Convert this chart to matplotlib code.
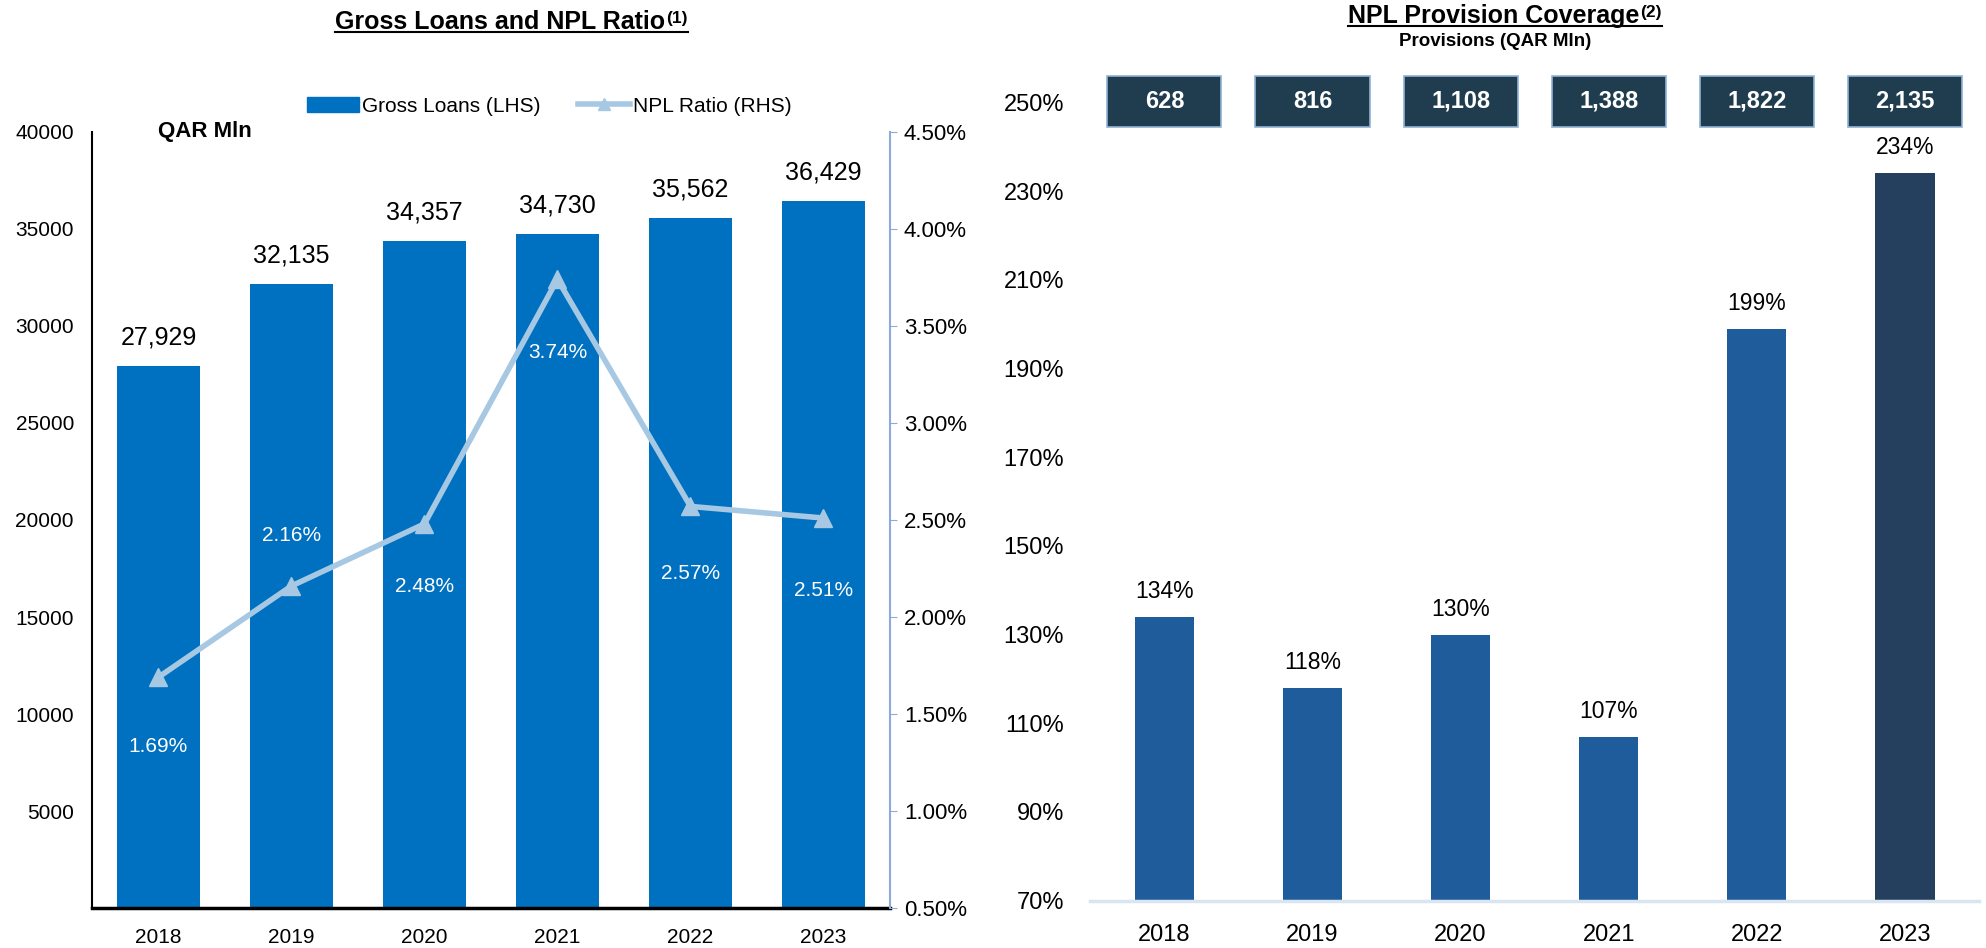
import matplotlib
matplotlib.use("Agg")
import matplotlib.pyplot as plt
from matplotlib.patches import Rectangle
from matplotlib.lines import Line2D

plt.rcParams['font.family'] = ['Liberation Sans', 'DejaVu Sans']

# data
years = ["2018", "2019", "2020", "2021", "2022", "2023"]
gross_loans = [27929, 32135, 34357, 34730, 35562, 36429]
npl_ratio = [1.69, 2.16, 2.48, 3.74, 2.57, 2.51]
coverage = [134, 118, 130, 107, 199, 234]
provisions = ["628", "816", "1,108", "1,388", "1,822", "2,135"]

fig = plt.figure(figsize=(19.86, 9.48), dpi=100)
x = list(range(len(years)))

# ---- left chart: gross loans + NPL ratio
ax1 = fig.add_axes([0.0463, 0.042, 0.4018, 0.819])
ax1.bar(x, gross_loans, width=0.62, color='#0070c0', zorder=2)
ax1.set_xlim(-0.5, 5.5)
ax1.set_ylim(0, 40000)
ax1.set_yticks(range(5000, 40001, 5000))
ax1.tick_params(axis='y', length=0, labelsize=15, pad=13)
ax1.tick_params(axis='x', length=0, labelsize=15, pad=14)
ax1.set_xticks(x)
ax1.set_xticklabels(years)
for s in ['top', 'right']:
    ax1.spines[s].set_visible(False)
ax1.spines['left'].set_linewidth(1.5)
ax1.spines['bottom'].set_linewidth(2.5)
for xi, v in zip(x, gross_loans):
    ax1.annotate(f"{v:,}", (xi, v), xytext=(0, 12), textcoords='offset points',
                 ha='center', va='bottom', fontsize=18)
ax1.text(0.083, 1.0, "QAR Mln", transform=ax1.transAxes, fontsize=16,
         fontweight='bold', ha='left', va='center')

ax2 = ax1.twinx()
ax2.plot(x, npl_ratio, color='#a6c8e3', lw=4, marker='^', markersize=13, zorder=3)
ax2.set_ylim(0.5, 4.5)
ax2.set_yticks([0.5 + 0.5 * i for i in range(9)])
ax2.set_yticklabels([f"{0.5 + 0.5 * i:.2f}%" for i in range(9)])
ax2.tick_params(axis='y', labelsize=16, length=5, color='#8eaadb', pad=5)
for s in ['top', 'left', 'bottom']:
    ax2.spines[s].set_visible(False)
ax2.spines['right'].set_color('#8eaadb')
ax2.spines['right'].set_linewidth(1.5)
label_offsets = [-50, 36, -45, -53, -48, -52]
for xi, v, off in zip(x, npl_ratio, label_offsets):
    ax2.annotate(f"{v:.2f}%", (xi, v), xytext=(0, off), textcoords='offset points',
                 ha='center', va='center', fontsize=15, color='white')

handles = [Rectangle((0, 0), 1, 1, color='#0070c0'),
           Line2D([], [], color='#a6c8e3', lw=4, marker='^', markersize=8)]
fig.legend(handles, ['Gross Loans (LHS)', 'NPL Ratio (RHS)'], loc='center',
           bbox_to_anchor=(0.2765, 0.888), ncol=2, frameon=False, fontsize=15,
           handlelength=2.5, handletextpad=0.15, columnspacing=1.8)

# ---- right chart: NPL provision coverage
ax3 = fig.add_axes([0.549, 0.050, 0.4475, 0.842])
bar_colors = ['#1f5c9c'] * 5 + ['#253f5f']
ax3.bar(x, coverage, width=0.40, color=bar_colors, zorder=2)
ax3.set_xlim(-0.5, 5.5)
ax3.set_ylim(70, 250)
ax3.set_yticks(range(70, 251, 20))
ax3.set_yticklabels([f"{v}%" for v in range(70, 251, 20)])
ax3.tick_params(axis='y', length=0, labelsize=17, pad=19)
ax3.tick_params(axis='x', length=0, labelsize=17, pad=17)
ax3.set_xticks(x)
ax3.set_xticklabels(years)
for s in ['top', 'right', 'left']:
    ax3.spines[s].set_visible(False)
ax3.spines['bottom'].set_color('#dae5f2')
ax3.spines['bottom'].set_linewidth(2.5)
for xi, v in zip(x, coverage):
    ax3.annotate(f"{v}%", (xi, v), xytext=(0, 10), textcoords='offset points',
                 ha='center', va='bottom', fontsize=16.5)
for xi, p in zip(x, provisions):
    box = Rectangle((xi - 0.385, 244.5), 0.77, 11.5, facecolor='#1f3d4f',
                    edgecolor='#8fb3d5', lw=1.2, clip_on=False, zorder=4)
    ax3.add_patch(box)
    ax3.text(xi, 250.2, p, ha='center', va='center', color='white',
             fontsize=17, fontweight='bold', zorder=5, clip_on=False)

# ---- titles with underline
t1 = fig.text(0.252, 0.977, "Gross Loans and NPL Ratio", ha='center', va='center',
              fontsize=18, fontweight='bold')
t2 = fig.text(0.752, 0.983, "NPL Provision Coverage", ha='center', va='center',
              fontsize=18, fontweight='bold')
fig.text(0.753, 0.956, "Provisions (QAR Mln)", ha='center', va='center',
         fontsize=13.5, fontweight='bold')

fig.canvas.draw()
r = fig.canvas.get_renderer()
inv = fig.transFigure.inverted()
for t, sup in [(t1, "(1)"), (t2, "(2)")]:
    bb = t.get_window_extent(r)
    (x0, y0), (x1, y1) = inv.transform([[bb.x0, bb.y0], [bb.x1, bb.y1]])
    st = fig.text(x1 + 0.0005, y1 - 0.001, sup, ha='left', va='top',
                  fontsize=12.5, fontweight='bold')
    sb = st.get_window_extent(r)
    sx1 = inv.transform([[sb.x1, sb.y1]])[0][0]
    fig.add_artist(Line2D([x0, sx1], [y0 + 0.002, y0 + 0.002], color='black', lw=1.5))

fig.savefig("out.png", dpi=100)
